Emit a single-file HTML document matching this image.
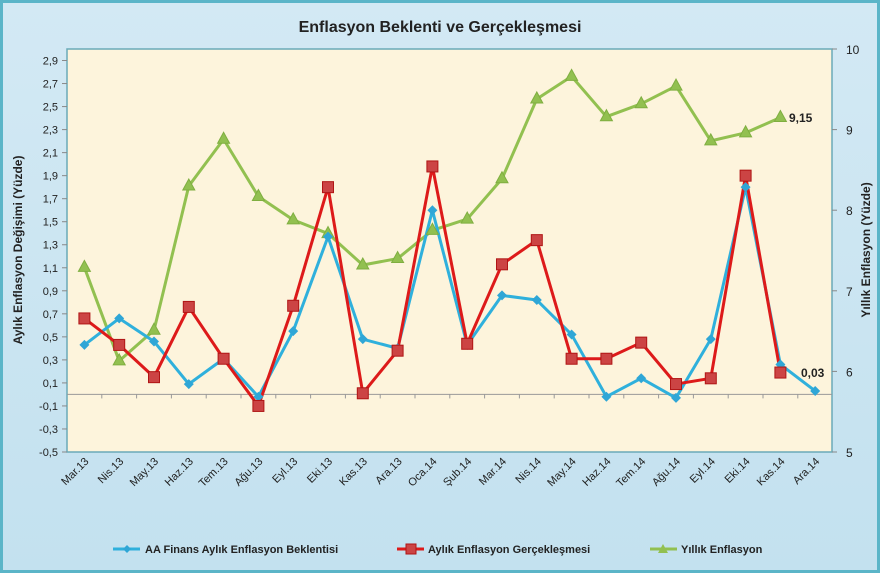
<!DOCTYPE html>
<html><head><meta charset="utf-8"><style>
body{margin:0;width:880px;height:573px;overflow:hidden;font-family:"Liberation Sans",sans-serif}
</style></head><body>
<svg id="s" width="880" height="573" xmlns="http://www.w3.org/2000/svg" font-family="Liberation Sans, sans-serif">
<defs><linearGradient id="bg" x1="0" y1="0" x2="0" y2="1"><stop offset="0" stop-color="#d3e9f4"/><stop offset="1" stop-color="#c3e1ef"/></linearGradient></defs>
<rect x="0" y="0" width="880" height="573" fill="#5bb5c8"/>
<rect x="3" y="3" width="874" height="567" fill="url(#bg)"/>
<rect x="67" y="49" width="765" height="403" fill="#fdf4dc" stroke="#6aaab8" stroke-width="1.5"/>
<text x="440" y="32" text-anchor="middle" font-size="16" font-weight="bold" fill="#222">Enflasyon Beklenti ve Gerçekleşmesi</text>
<g id="g"></g>
</svg>
<script>
const g=document.getElementById('g');let h='';
const X=i=>67+34.8*(i+0.5), YL=v=>452-(v+0.5)/3.5*403, YR=v=>452-(v-5)*80.6;
// left ticks
for(let k=0;k<=17;k++){const v=-0.5+0.2*k,y=YL(v);h+=`<line x1="62" x2="67" y1="${y}" y2="${y}" stroke="#888"/><text x="58" y="${y+4}" text-anchor="end" font-size="11" fill="#222">${v.toFixed(1).replace('.',',').replace('-0,0','0,0')}</text>`;}
for(let v=5;v<=10;v++){const y=YR(v);h+=`<line x1="832" x2="837" y1="${y}" y2="${y}" stroke="#888"/><text x="846" y="${y+5}" font-size="12" fill="#222">${v}</text>`;}
const y0=YL(0);h+=`<line x1="67" x2="832" y1="${y0}" y2="${y0}" stroke="#999"/>`;
for(let i=1;i<22;i++){const x=67+34.8*i;h+=`<line x1="${x}" x2="${x}" y1="${y0}" y2="${y0+4}" stroke="#999"/>`;}
const L=['Mar.13','Nis.13','May.13','Haz.13','Tem.13','Ağu.13','Eyl.13','Eki.13','Kas.13','Ara.13','Oca.14','Şub.14','Mar.14','Nis.14','May.14','Haz.14','Tem.14','Ağu.14','Eyl.14','Eki.14','Kas.14','Ara.14'];
L.forEach((t,i)=>{const x=X(i)+5,y=462;h+=`<text x="${x}" y="${y}" text-anchor="end" font-size="11" fill="#222" transform="rotate(-45 ${x} ${y})">${t}</text>`;});
const B=[0.43,0.66,0.46,0.09,0.31,-0.02,0.55,1.37,0.48,0.40,1.60,0.43,0.86,0.82,0.52,-0.02,0.14,-0.03,0.48,1.80,0.26,0.03];
const R=[0.66,0.43,0.15,0.76,0.31,-0.10,0.77,1.80,0.01,0.38,1.98,0.44,1.13,1.34,0.31,0.31,0.45,0.09,0.14,1.90,0.19];
const G=[7.29,6.13,6.51,8.30,8.88,8.17,7.88,7.71,7.32,7.40,7.75,7.89,8.39,9.38,9.66,9.16,9.32,9.54,8.86,8.96,9.15];
const pl=(d,f,c)=>`<polyline fill="none" stroke="${c}" stroke-width="3" stroke-linejoin="round" points="${d.map((v,i)=>X(i)+','+f(v)).join(' ')}"/>`;
h+=pl(G,YR,'#92c050');h+=pl(B,YL,'#2fb0dc');h+=pl(R,YL,'#dd1a1a');
G.forEach((v,i)=>{const x=X(i),y=YR(v);h+=`<polygon points="${x},${y-7} ${x-6},${y+4} ${x+6},${y+4}" fill="#92c050" stroke="#7fae40"/>`;});
B.forEach((v,i)=>{const x=X(i),y=YL(v);h+=`<polygon points="${x},${y-5} ${x+5},${y} ${x},${y+5} ${x-5},${y}" fill="#2fa6d6"/>`;});
R.forEach((v,i)=>{const x=X(i),y=YL(v);h+=`<rect x="${x-5.5}" y="${y-5.5}" width="11" height="11" fill="#cc4444" stroke="#b01515"/>`;});
h+=`<text x="789" y="122" font-size="12" font-weight="bold" fill="#222">9,15</text><text x="801" y="377" font-size="12" font-weight="bold" fill="#222">0,03</text>`;
h+=`<text transform="translate(22 250) rotate(-90)" text-anchor="middle" font-size="12" font-weight="bold" fill="#222">Aylık Enflasyon Değişimi (Yüzde)</text>`;
h+=`<text transform="translate(870 250) rotate(-90)" text-anchor="middle" font-size="12" font-weight="bold" fill="#222">Yıllık Enflasyon (Yüzde)</text>`;
// legend
h+=`<line x1="113" x2="140" y1="549" y2="549" stroke="#2fb0dc" stroke-width="3"/><polygon points="127,545 131,549 127,553 123,549" fill="#2fa6d6"/><text x="145" y="553" font-size="11" font-weight="bold" fill="#222">AA Finans Aylık Enflasyon Beklentisi</text>`;
h+=`<line x1="397" x2="424" y1="549" y2="549" stroke="#dd1a1a" stroke-width="3"/><rect x="406" y="544" width="10" height="10" fill="#cc4444" stroke="#b01515"/><text x="428" y="553" font-size="11" font-weight="bold" fill="#222">Aylık Enflasyon Gerçekleşmesi</text>`;
h+=`<line x1="650" x2="677" y1="549" y2="549" stroke="#92c050" stroke-width="3"/><polygon points="663,544 658,553 668,553" fill="#92c050"/><text x="681" y="553" font-size="11" font-weight="bold" fill="#222">Yıllık Enflasyon</text>`;
g.innerHTML=h;
</script>
</body></html>
